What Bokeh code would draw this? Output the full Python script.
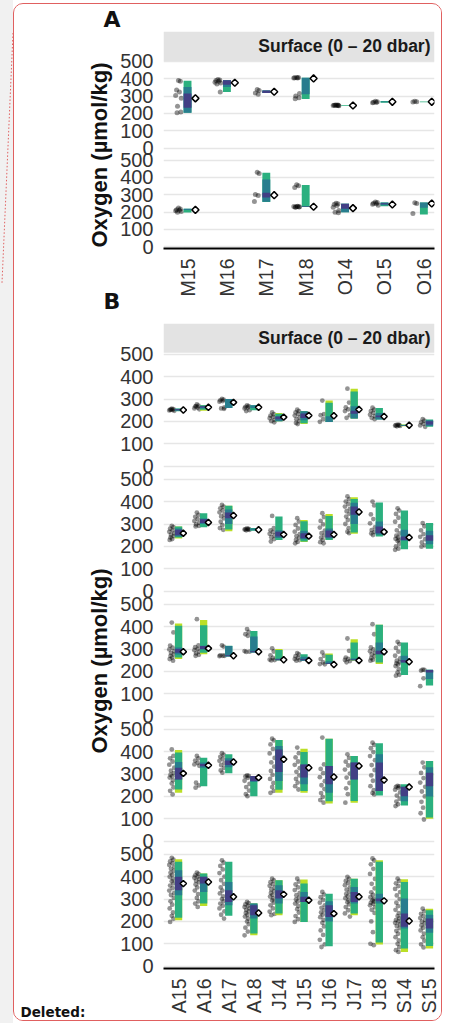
import math
from bokeh.plotting import figure
from bokeh.models import Range1d, FixedTicker, BoxAnnotation, Label, ColumnDataSource, Div, Title
from bokeh.layouts import column, row
from bokeh.transform import dodge
from bokeh.embed import file_html
from bokeh.resources import INLINE

# ---------------- data ----------------
A_CATS = ["M15", "M16", "M17", "M18", "O14", "O15", "O16"]
B_CATS = ["A15", "A16", "A17", "A18", "J14", "J15", "J16", "J17", "J18", "S14", "S15"]
Y_TICKS = [0, 100, 200, 300, 400, 500]
STRIP_TEXT = "Surface (0 \u2013 20 dbar)"
Y_TITLE = "Oxygen (\u00b5mol/kg)"

# Panel A, row 1
A1_DOTS = [[390, 386, 335, 323, 304, 288, 242, 208, 204],
           [396, 393, 390, 386, 380, 375, 370, 323],
           [338, 333, 318, 310],
           [408, 407, 406, 405, 404, 315, 300, 290, 284],
           [249, 248, 247, 246, 245, 244, 247, 246],
           [270, 268, 265, 263, 261],
           [270, 268, 266]]
A1_MEAN = [287, 377, 325, 402, 246, 267, 267]
A1_Q100 = [None] * 7
A1_Q95 = [[204, 388], [323, 392], [318, 333], [283, 406], [244, 248], [262, 271], [265, 269]]
A1_Q80 = [[204, 352], [352, 392], [318, 333], [310, 406], None, [265, 269], None]
A1_Q50 = [[233, 315], [365, 392], [318, 333], None, None, None, None]

# Panel A, row 2
A2_DOTS = [[224, 218, 214, 211, 208, 204, 200],
           [],
           [430, 423, 302, 296, 262],
           [358, 352, 342, 234, 232, 231, 230, 229, 228, 233],
           [252, 248, 244, 238, 228, 210, 200, 196],
           [258, 255, 251, 248, 245, 240],
           [254, 250, 192]]
A2_MEAN = [213, None, 298, 231, 223, 244, 250]
A2_Q100 = [None] * 7
A2_Q95 = [[198, 219], None, [258, 427], [229, 356], [200, 248], [234, 256], [187, 256]]
A2_Q80 = [[212, 219], None, [260, 388], [229, 233], [200, 248], [240, 256], [225, 256]]
A2_Q50 = [None, None, [285, 312], [230, 233], [219, 248], [246, 251], None]

# Panel B, row 1
B1_DOTS = [[257, 255, 253, 251, 249, 247, 252],
           [276, 270, 266, 262, 258, 254, 268],
           [301, 297, 294, 291, 288, 262, 258, 256],
           [271, 268, 265, 262, 258, 250, 246],
           [240, 232, 226, 220, 214, 207, 201, 196],
           [252, 246, 240, 233, 226, 218, 210, 201, 193, 188],
           [293, 232, 228, 210, 198],
           [346, 284, 262, 254, 246, 228, 216],
           [261, 253, 246, 238, 230, 223, 216, 210],
           [186, 184, 183, 182, 181, 180, 178],
           [210, 203, 196, 189, 182, 176]]
B1_MEAN = [251, 263, 285, 263, 219, 226, 225, 253, 222, 183, None]
B1_Q100 = [None, [248, 272], None, None, [201, 238], [188, 245], [197, 293], [213, 346], None, [178, 186], None]
B1_Q95 = [[245, 258], [252, 272], [260, 300], [250, 272], [201, 234], [192, 245], [197, 283], [213, 334], [209, 260], [180, 185], [176, 209]]
B1_Q80 = [[248, 256], [258, 270], [260, 300], [260, 272], [201, 223], [205, 245], [197, 223], [213, 268], [209, 238], [181, 184], [180, 205]]
B1_Q50 = [[250, 254], [262, 268], None, None, [210, 222], [215, 235], None, [234, 248], [218, 226], [182, 183], [186, 201]]

# Panel B, row 2
B2_DOTS = [[292, 286, 279, 272, 265, 258, 252, 246, 240, 233, 229],
           [351, 341, 332, 322, 313, 305, 298, 292, 289],
           [385, 378, 370, 361, 352, 343, 334, 325, 310, 295, 282, 274],
           [280, 278, 277, 276, 275, 274, 272],
           [336, 281, 272, 264, 256, 249, 241, 233, 222],
           [326, 311, 296, 280, 266, 255, 246, 238, 229, 220, 214],
           [348, 331, 314, 298, 284, 270, 259, 249, 239, 229, 219, 214],
           [423, 411, 400, 389, 378, 368, 357, 346, 333, 318, 300, 281, 266, 259],
           [400, 383, 343, 322, 303, 285, 273, 265, 258, 251],
           [370, 360, 345, 328, 310, 290, 272, 258, 248, 240, 234, 229, 224, 212, 200, 190, 185],
           [304, 290, 272, 255, 243, 232, 218, 205, 199]]
B2_MEAN = [259, 307, 338, 274, 253, 246, 253, 354, 265, 240, None]
B2_Q100 = [[235, 289], None, [268, 382], None, None, [220, 318], [229, 345], [256, 420], None, None, None]
B2_Q95 = [[240, 289], [286, 348], [275, 382], [270, 282], [229, 333], [222, 312], [229, 336], [262, 412], [244, 396], [187, 360], [190, 305]]
B2_Q80 = [[244, 280], [300, 325], [300, 365], [272, 280], [238, 272], [232, 270], [235, 280], [300, 395], [252, 311], [225, 274], [210, 270]]
B2_Q50 = [[250, 274], [304, 321], [326, 351], None, [244, 266], [237, 259], [241, 271], [341, 378], [259, 289], [229, 244], [225, 250]]

# Panel B, row 3
B3_DOTS = [[418, 374, 315, 306, 298, 290, 283, 276, 269, 262, 255, 248],
           [433, 316, 308, 301, 295, 288, 281, 274, 270],
           [316, 311, 272, 270, 268, 270],
           [389, 376, 366, 359, 291, 288, 287],
           [303, 289, 272, 260, 253, 251, 249],
           [282, 276, 268, 261, 255, 250, 248],
           [285, 270, 255, 240, 233, 232],
           [347, 292, 262, 256, 251, 246, 241],
           [411, 366, 307, 298, 290, 283, 276, 268, 260, 252, 248],
           [332, 322, 305, 288, 270, 258, 248, 241, 236, 231, 224, 210, 196, 185, 181],
           [208, 207, 204, 169, 134]]
B3_MEAN = [288, 303, 270, 288, 252, 249, 231, 249, 288, 243, None]
B3_Q100 = [[255, 414], [277, 430], None, None, [250, 300], None, [233, 280], [248, 344], [233, 408], None, None]
B3_Q95 = [[262, 404], [283, 406], [267, 315], [285, 381], [250, 296], [248, 277], [233, 274], [250, 329], [240, 408], [184, 329], [137, 208]]
B3_Q80 = [[276, 307], [298, 315], [267, 313], [285, 356], [250, 258], [248, 265], [233, 245], [250, 258], [277, 329], [240, 270], [166, 208]]
B3_Q50 = [[283, 300], [300, 313], [268, 272], [286, 290], [250, 254], [250, 255], [234, 238], [250, 253], [277, 292], [240, 251], [195, 206]]

# Panel B, row 4
B4_DOTS = [[410, 381, 370, 356, 342, 328, 315, 304, 297, 290, 284, 272, 258, 240, 225, 209],
           [381, 370, 360, 350, 343, 337, 261, 249, 239],
           [393, 386, 377, 368, 359, 350, 340, 328, 316, 306],
           [294, 292, 289, 283, 270, 256, 242, 226, 210, 201],
           [458, 450, 432, 412, 392, 372, 352, 333, 314, 296, 278, 260, 242, 225, 216],
           [418, 393, 374, 356, 341, 326, 310, 294, 278, 262, 246, 231],
           [463, 343, 323, 304, 286, 268, 250, 233, 215, 198, 184, 172],
           [388, 372, 355, 338, 320, 302, 284, 260, 236, 210, 172],
           [440, 430, 415, 398, 380, 362, 340, 318, 294, 270, 246, 228, 215, 209],
           [247, 245, 243, 238, 230, 218, 204, 190, 177, 165, 157],
           [351, 330, 305, 282, 262, 243, 222, 200, 176, 150, 125, 97]]
B4_MEAN = [303, 339, 354, 284, 366, 328, 287, 336, 273, 242, None]
B4_Q100 = [[216, 407], None, None, None, [216, 452], [216, 413], [169, 458], [172, 381], None, None, [100, 358]]
B4_Q95 = [[231, 396], [246, 373], [303, 388], [201, 291], [230, 452], [224, 398], [179, 458], [180, 381], [204, 437], [160, 254], [106, 358]]
B4_Q80 = [[276, 354], [328, 351], [330, 370], [265, 291], [269, 425], [254, 343], [216, 336], [276, 351], [224, 388], [179, 243], [200, 330]]
B4_Q50 = [[276, 328], [335, 345], [340, 360], [269, 291], [309, 410], [284, 343], [254, 336], [276, 351], [224, 351], [201, 243], [246, 306]]

# Panel B, row 5
B5_DOTS = [[484, 476, 468, 460, 452, 444, 435, 426, 417, 408, 399, 390, 380, 370, 360, 349, 338, 327, 318, 305, 290, 275, 258, 240, 225, 212, 198],
           [418, 412, 406, 400, 395, 389, 382, 374, 365, 352, 338, 322, 305, 290, 280, 265],
           [473, 462, 448, 432, 416, 400, 384, 368, 352, 338, 325, 312, 300, 290, 280, 270, 258, 245, 230, 213],
           [287, 282, 276, 270, 264, 258, 252, 245, 238, 230, 222, 212, 200, 188, 172, 155, 138],
           [391, 383, 375, 367, 359, 351, 343, 335, 327, 319, 311, 303, 294, 284, 272, 258, 244, 234, 228],
           [391, 378, 365, 352, 340, 328, 317, 307, 298, 289, 280, 268, 255, 240, 224, 210, 198],
           [332, 320, 308, 296, 284, 272, 261, 250, 240, 230, 219, 207, 194, 178, 160, 140, 118, 98, 86],
           [399, 390, 381, 372, 362, 352, 342, 332, 322, 313, 304, 295, 286, 276, 264, 250, 236, 222],
           [481, 472, 455, 435, 412, 390, 368, 348, 330, 318, 308, 300, 294, 289, 284, 279, 272, 263, 252, 238, 200, 152, 100, 94],
           [391, 381, 370, 358, 345, 331, 316, 300, 284, 268, 252, 237, 224, 214, 206, 200, 194, 188, 180, 170, 158, 145, 130, 115, 100, 85, 72, 64],
           [257, 245, 234, 224, 215, 207, 199, 191, 182, 172, 160, 146, 130, 114, 98, 84]]
B5_MEAN = [369, 376, 310, 238, 321, 295, 235, 310, 292, 202, None]
B5_Q100 = [[205, 478], [269, 414], None, [138, 280], [228, 384], [198, 387], None, [228, 391], [97, 473], [64, 388], [79, 257]]
B5_Q95 = [[216, 466], [280, 414], [225, 466], [146, 280], [235, 384], [198, 369], [89, 324], [235, 391], [106, 466], [79, 376], [90, 250]]
B5_Q80 = [[317, 429], [332, 399], [272, 376], [213, 280], [280, 362], [287, 332], [200, 290], [280, 354], [280, 324], [168, 302], [150, 230]]
B5_Q50 = [[339, 399], [369, 399], [287, 339], [228, 272], [302, 339], [287, 310], [220, 272], [287, 332], [290, 302], [176, 235], [168, 213]]

# ---------------- style ----------------
C100, C95, C80, C50 = "#BBDF27", "#2BB07F", "#287D8E", "#423F85"
JITTER = [0.0, 0.6, -0.6, 0.3, -0.9, 0.9, -0.3, 0.75, -0.45, 0.15, -0.75, 0.45]
FONT = "Liberation Sans"
TXT = "#333333"


def draw_row(p, dots, means, q100, q95, q80, q50, y_off, bar_w, dot_dx, spread, dia_dx, dot_size, dia_size):
    dx, dv = [], []
    for i, vals in enumerate(dots):
        for k, v in enumerate(vals):
            dx.append(i + dot_dx + JITTER[k % len(JITTER)] * spread)
            dv.append(v)
    p.scatter(x="x", y=dodge("v", y_off), source=ColumnDataSource(dict(x=dx, v=dv)),
              size=dot_size, fill_color="black", fill_alpha=0.42, line_color=None)
    for q, col in ((q100, C100), (q95, C95), (q80, C80), (q50, C50)):
        xs = [i for i, iv in enumerate(q) if iv is not None]
        lo = [iv[0] for iv in q if iv is not None]
        hi = [iv[1] for iv in q if iv is not None]
        if xs:
            p.vbar(x="x", width=bar_w, bottom=dodge("lo", y_off), top=dodge("hi", y_off),
                   source=ColumnDataSource(dict(x=xs, lo=lo, hi=hi)), fill_color=col, line_color=None)
    mx = [i + dia_dx for i, m in enumerate(means) if m is not None]
    mv = [m for m in means if m is not None]
    p.scatter(x="x", y=dodge("m", y_off), source=ColumnDataSource(dict(x=mx, m=mv)),
              marker="square", angle=math.pi / 4, size=dia_size,
              fill_color="white", line_color="black", line_width=1.5)


def make_fig(cats, xr, yr, frame_h, top, bottom, offsets):
    p = figure(frame_width=271, frame_height=frame_h, min_border_left=149, min_border_right=7,
               min_border_top=top, min_border_bottom=bottom, x_range=Range1d(*xr), y_range=Range1d(*yr),
               toolbar_location=None, output_backend="svg", outline_line_color=None,
               background_fill_color="white", border_fill_color="white")
    yt = [o + t for o in offsets for t in Y_TICKS]
    p.yaxis.ticker = FixedTicker(ticks=yt)
    p.yaxis.major_label_overrides = {o + t: str(t) for o in offsets for t in Y_TICKS}
    p.ygrid.ticker = FixedTicker(ticks=yt)
    p.ygrid.grid_line_color = "#e6e6e6"
    p.ygrid.grid_line_width = 1.6
    p.xgrid.grid_line_color = None
    p.yaxis.axis_line_color = None
    p.yaxis.major_tick_line_color = None
    p.yaxis.minor_tick_line_color = None
    p.yaxis.major_tick_out = 0
    p.yaxis.major_tick_in = 0
    p.yaxis.major_label_standoff = 10
    p.yaxis.major_label_text_font = FONT
    p.yaxis.major_label_text_font_size = "20px"
    p.yaxis.major_label_text_color = TXT
    p.xaxis.ticker = FixedTicker(ticks=list(range(len(cats))))
    p.xaxis.major_label_overrides = {i: c for i, c in enumerate(cats)}
    p.xaxis.major_label_orientation = math.pi / 2
    p.xaxis.axis_line_color = "black"
    p.xaxis.axis_line_width = 2.2
    p.xaxis.major_tick_line_color = None
    p.xaxis.minor_tick_line_color = None
    p.xaxis.major_tick_out = 0
    p.xaxis.major_tick_in = 0
    p.xaxis.major_label_standoff = 10
    p.xaxis.major_label_text_font = FONT
    p.xaxis.major_label_text_font_size = "19.5px"
    p.xaxis.major_label_text_color = TXT
    return p


def strip(p, bottom, ytext):
    p.add_layout(BoxAnnotation(bottom=bottom, fill_color="#e3e3e3", fill_alpha=1.0, line_color=None))
    p.add_layout(Label(x=267, y=ytext, x_units="screen", y_units="data", text=STRIP_TEXT,
                       text_align="right", text_baseline="middle", text_font=FONT,
                       text_font_style="bold", text_font_size="17.5px", text_color="#1a1a1a"))


def ytitle(p, offset):
    p.add_layout(Title(text=Y_TITLE, align="left", vertical_align="middle", offset=offset,
                       text_font=FONT, text_font_style="bold", text_font_size="22px",
                       text_color="#111111"), "left")


def tag(p, txt, side, offset, valign, standoff, size, font="DejaVu Sans"):
    p.add_layout(Title(text=txt, align="left", vertical_align=valign, offset=offset, standoff=standoff,
                       text_font=font, text_font_style="bold", text_font_size=size,
                       text_color="#111111"), side)


# ---------------- panel A ----------------
PA = 570
pa = make_fig(A_CATS, (-0.61, 6.27), (-10, 1243), 217, 27, 66, [0, PA])
strip(pa, PA + 503, (PA + 503 + 1243) / 2)
draw_row(pa, A1_DOTS, A1_MEAN, A1_Q100, A1_Q95, A1_Q80, A1_Q50, PA, 0.2, -0.23, 0.08, 0.2, 5, 5)
draw_row(pa, A2_DOTS, A2_MEAN, A2_Q100, A2_Q95, A2_Q80, A2_Q50, 0, 0.2, -0.23, 0.08, 0.2, 5, 5)
ytitle(pa, 1)
tag(pa, "A", "above", -60, "bottom", 0, "22px")
tag(pa, "B", "below", -60, "top", -22, "22px")

# ---------------- panel B ----------------
PB = 558
pb = make_fig(B_CATS, (-0.6, 10.2), (-10, 2869), 645, 9, 52, [0, PB, 2 * PB, 3 * PB, 4 * PB])
strip(pb, 4 * PB + 506, (4 * PB + 506 + 2869) / 2)
rows_b = [(B1_DOTS, B1_MEAN, B1_Q100, B1_Q95, B1_Q80, B1_Q50),
          (B2_DOTS, B2_MEAN, B2_Q100, B2_Q95, B2_Q80, B2_Q50),
          (B3_DOTS, B3_MEAN, B3_Q100, B3_Q95, B3_Q80, B3_Q50),
          (B4_DOTS, B4_MEAN, B4_Q100, B4_Q95, B4_Q80, B4_Q50),
          (B5_DOTS, B5_MEAN, B5_Q100, B5_Q95, B5_Q80, B5_Q50)]
for r, d in enumerate(rows_b):
    draw_row(pb, *d, (4 - r) * PB, 0.29, -0.27, 0.11, 0.19, 4.8, 4.5)
ytitle(pb, 215)
tag(pb, "Deleted:", "below", -143, "top", -26, "13.5px")

# ---------------- page ----------------
left = Div(text='<svg width="13" height="1023" style="display:block">'
                '<line x1="13" y1="33" x2="2" y2="283" stroke="#e06060" stroke-width="1" stroke-dasharray="1.5 2"/></svg>',
           width=13, height=1023, margin=0, styles={"background-color": "#f1f1f1"})
body = column(pa, pb, spacing=0, margin=0,
              styles={"border": "1px solid #e06060", "border-radius": "10px", "margin-top": "3px", "overflow": "hidden"})
page = row(left, body, spacing=0, margin=0)

open("out.html", "w").write(file_html(page, INLINE))
